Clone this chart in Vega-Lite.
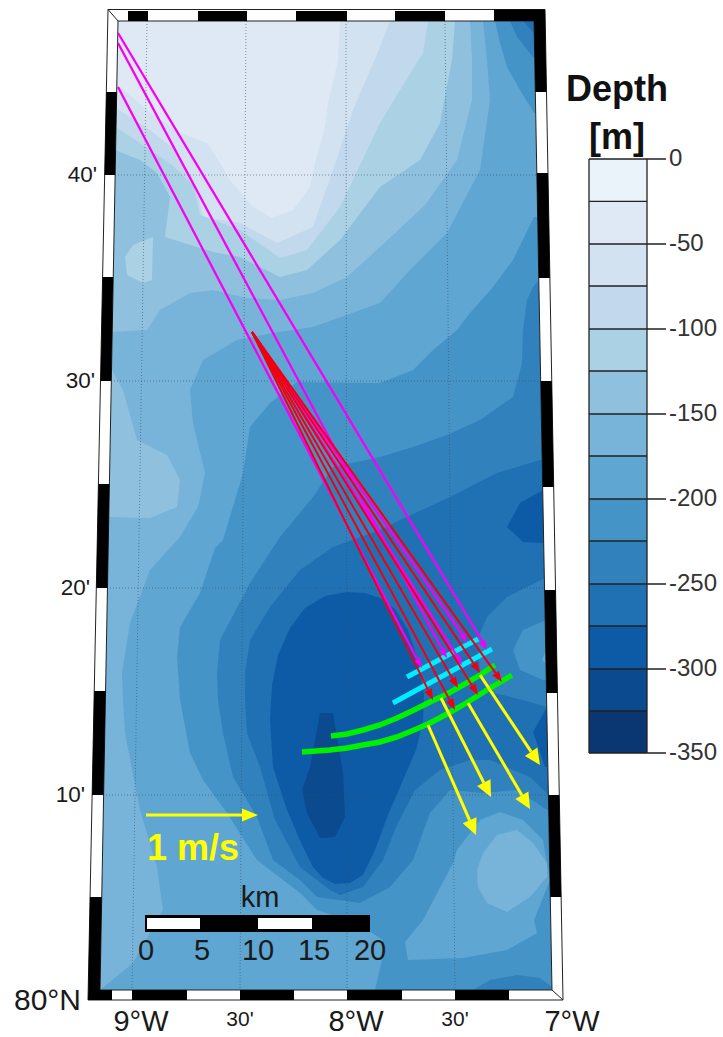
{
"$schema":"https://vega.github.io/schema/vega-lite/v6.json",
"width":723,"height":1037,"padding":0,
"autosize":{"type":"fit","contains":"padding"},
"background":"white",
"config":{"view":{"stroke":null}},
"projection":{"type":"identity","scale":10,"translate":[0,0]},
"layer":[
{"data":{"values":[
{"type":"Feature","properties":{"depth":-25},"geometry":{"type":"Polygon","coordinates":[[[11.8,2.1],[53.4,2.1],[55.2,99],[10,99],[11.8,2.1]]]}},
{"type":"Feature","properties":{"depth":-50},"geometry":{"type":"Polygon","coordinates":[[[11.6,8.3],[14.7,11],[18,13.3],[20.7,14.3],[22,16.3],[23,18],[25.3,20.7],[27.2,21.8],[29.3,21],[31,18.7],[31.5,16.3],[32.5,12.7],[32.8,10.3],[33.8,6],[34,2.1],[53.4,2.1],[55.2,99],[10,99],[11.6,8.3]]]}},
{"type":"Feature","properties":{"depth":-75},"geometry":{"type":"Polygon","coordinates":[[[11.6,10.8],[15,13],[17.5,15],[19.7,19],[20.3,21.7],[24,22.3],[27.7,24.3],[31.3,22.7],[33.3,17],[35.3,11],[38,4.7],[39,2.1],[53.4,2.1],[55.2,99],[10,99],[11.6,10.8]]]}},
{"type":"Feature","properties":{"depth":-100},"geometry":{"type":"Polygon","coordinates":[[[11.6,12.7],[14.3,14.5],[17.2,16.5],[19.3,18.5],[20,21.5],[24,23],[28,25.8],[30.7,25],[34,20.7],[35.3,18],[38,12.3],[40,9],[42.3,5.3],[42.8,2.1],[53.4,2.1],[55.2,99],[10,99],[11.6,12.7]]]}},
{"type":"Feature","properties":{"depth":-125},"geometry":{"type":"Polygon","coordinates":[[[11.5,15],[14,16],[15.7,17.3],[17,19.7],[16.5,23.7],[21.3,25.2],[24,25.7],[28,27.7],[30.7,27],[34,24],[38,18.7],[42,16],[44,12.3],[45.2,6],[45.5,2.1],[53.4,2.1],[55.2,99],[10,99],[11.5,15]]]}},
{"type":"Feature","properties":{"depth":-100},"geometry":{"type":"Polygon","coordinates":[[[12.5,25.7],[13.3,24.5],[15.3,23.7],[15.2,28],[14.3,28.3],[12.7,27.5],[12.5,25.7]]]}},
{"type":"Feature","properties":{"depth":-150},"geometry":{"type":"Polygon","coordinates":[[[11.2,33.2],[14.7,33],[16,31],[19,29.3],[21.3,29],[24.7,29.8],[28,30],[31.3,29.3],[34.7,27.7],[38,24.7],[42.5,20.5],[45.7,16],[47.2,10],[47.2,6],[47,2.1],[53.4,2.1],[55.2,99],[10,99],[11.2,33.2]]]}},
{"type":"Feature","properties":{"depth":-175},"geometry":{"type":"Polygon","coordinates":[[[48.3,2.1],[48.7,6],[49,10],[48,17],[44.7,23.3],[41,27],[38,30.3],[31.3,32.7],[27.3,33.3],[23.7,34],[20.3,36],[19,39],[19.3,42.3],[20.5,47.3],[19.8,50.7],[18,53.7],[15,57],[13,62.3],[12.2,67.3],[12.3,70],[12.5,73.3],[14,81],[15.7,86.7],[16.3,91],[13.3,96.3],[10,99],[55.2,99],[53.4,2.1],[48.3,2.1]]]}},
{"type":"Feature","properties":{"depth":-125},"geometry":{"type":"Polygon","coordinates":[[[10.8,37],[11.2,37],[12.3,39],[13.7,44],[16.7,45.5],[18,48],[17.7,50.7],[15,51.8],[11,51.7],[10.6,51.7],[10.8,37]]]}},
{"type":"Feature","properties":{"depth":-200},"geometry":{"type":"Polygon","coordinates":[[[37.5,99],[38.2,96],[38.3,94],[36,92.5],[31.7,91],[30,89.3],[25.7,86],[22.7,81.3],[20.3,78],[19,75.3],[18,70],[17.7,65.7],[18,62.7],[20,59.3],[21.5,54.8],[22.3,54],[24.3,47.3],[25,42.7],[27,40.3],[29.7,38.2],[36.7,38.3],[38,38.3],[41.3,37],[43.3,35],[45.7,33],[47,31.3],[49.3,28.7],[51.3,26],[53.4,21.7],[53.8,21.7],[55.2,99],[37.5,99]]]}},
{"type":"Feature","properties":{"depth":-200},"geometry":{"type":"Polygon","coordinates":[[[49.5,2.1],[50,4.3],[50.7,6.7],[52,9],[53.4,11.3],[53.6,11.3],[53.4,2.1],[49.5,2.1]]]}},
{"type":"Feature","properties":{"depth":-225},"geometry":{"type":"Polygon","coordinates":[[[21.7,67.3],[22,64],[25,58.3],[28,53.7],[31.3,49.7],[33.3,46.7],[38,45.7],[41.3,44.7],[44.7,43.5],[48,42],[51.3,39.7],[52.2,36.3],[52.3,33],[52.7,30],[53.3,28.7],[53.9,28],[54.9,81],[54.7,81],[51.7,79],[48.3,79.3],[45,79],[43,81.3],[41.3,86],[39,88.7],[36,90.3],[31.7,89.7],[30,88],[27.3,86],[25.7,81.7],[23.3,77.7],[22.3,73.3],[21.8,70],[21.7,67.3]]]}},
{"type":"Feature","properties":{"depth":-225},"geometry":{"type":"Polygon","coordinates":[[[51,2.1],[51.7,3.7],[53.3,5.7],[53.5,5.7],[53.4,2.1],[51,2.1]]]}},
{"type":"Feature","properties":{"depth":-250},"geometry":{"type":"Polygon","coordinates":[[[52.3,2.1],[53.4,3.3],[53.4,2.1],[52.3,2.1]]]}},
{"type":"Feature","properties":{"depth":-250},"geometry":{"type":"Polygon","coordinates":[[[38,53],[40,52],[45,49.7],[49.7,47.3],[54,46],[54.3,46],[54.85,79.5],[53,77.7],[49,76],[47,76],[44,77],[41.5,79],[39.7,82.5],[38.3,86],[36.3,88.7],[34,89.5],[33,89],[30,86.7],[27.5,82],[26,76.7],[24.7,73.3],[24.5,70],[24.5,67.3],[25,64],[27,60.7],[30,57],[33.3,54.7],[38,53]]]}},
{"type":"Feature","properties":{"depth":-275},"geometry":{"type":"Polygon","coordinates":[[[34.7,59.2],[32.5,59.6],[30.5,60.8],[29,62.8],[27.8,65.5],[27.2,68.5],[27,72],[27.3,76.7],[28.7,81],[30.2,84.5],[31.3,86.7],[32.3,87.8],[33.5,88.4],[35,88.3],[36.3,87.5],[37.5,85],[38.8,81.5],[40.3,78],[41.6,75],[42.3,72.2],[42.4,69.5],[41.8,66],[40.8,63],[39.5,60.9],[38,59.8],[36.5,59.3],[34.7,59.2]]]}},
{"type":"Feature","properties":{"depth":-300},"geometry":{"type":"Polygon","coordinates":[[[32,71.3],[33.3,71.3],[34.3,77.3],[34.5,81.7],[33.5,83.7],[32,83.8],[30.7,81.3],[30.2,79],[31,76.7],[31.5,74],[32,71.3]]]}},
{"type":"Feature","properties":{"depth":-225},"geometry":{"type":"Polygon","coordinates":[[[54.5,57.8],[50.7,59.7],[48.7,61.7],[47.7,64],[48,67],[49,69.2],[52.3,70],[54.7,70.7],[54.5,57.8]]]}},
{"type":"Feature","properties":{"depth":-200},"geometry":{"type":"Polygon","coordinates":[[[54.6,62],[52.3,63],[51.3,65],[52,67],[54.3,68],[54.7,68],[54.6,62]]]}},
{"type":"Feature","properties":{"depth":-175},"geometry":{"type":"Polygon","coordinates":[[[54.6,65],[54.2,66],[54.7,66.5],[54.6,65]]]}},
{"type":"Feature","properties":{"depth":-275},"geometry":{"type":"Polygon","coordinates":[[[54.3,49],[52,50.3],[50.7,52.7],[52.3,54.2],[54.4,54.3],[54.3,49]]]}},
{"type":"Feature","properties":{"depth":-275},"geometry":{"type":"Polygon","coordinates":[[[54.7,70.7],[53.3,73.2],[54.5,76.7],[54.8,76.7],[54.7,70.7]]]}},
{"type":"Feature","properties":{"depth":-175},"geometry":{"type":"Polygon","coordinates":[[[40.5,94.2],[40.8,96],[46.3,95.8],[50.7,95],[53.7,93.3],[53.4,92],[55,88],[54.3,84],[52.3,82],[50,81.2],[48,82],[45.7,85],[45.3,86.3],[42.3,92],[40.5,94.2]]]}},
{"type":"Feature","properties":{"depth":-150},"geometry":{"type":"Polygon","coordinates":[[[49.7,83.5],[51.7,83],[53.3,84.3],[54.7,86.3],[54.7,87.7],[53,89.7],[50.7,91.2],[48.7,90.3],[47.8,88.7],[47.7,87],[48.3,85.3],[49.7,83.5]]]}},
{"type":"Feature","properties":{"depth":-225},"geometry":{"type":"Polygon","coordinates":[[[47.3,99],[49,98],[51.7,97.5],[54,97.8],[55.2,98.7],[55.2,99],[47.3,99]]]}},
{"type":"Feature","properties":{"depth":0},"geometry":{"type":"Polygon","coordinates":[[[58.9,15.9],[64.7,15.9],[64.7,20.14],[58.9,20.14],[58.9,15.9]]]}},
{"type":"Feature","properties":{"depth":-25},"geometry":{"type":"Polygon","coordinates":[[[58.9,20.14],[64.7,20.14],[64.7,24.4],[58.9,24.4],[58.9,20.14]]]}},
{"type":"Feature","properties":{"depth":-50},"geometry":{"type":"Polygon","coordinates":[[[58.9,24.4],[64.7,24.4],[64.7,28.6],[58.9,28.6],[58.9,24.4]]]}},
{"type":"Feature","properties":{"depth":-75},"geometry":{"type":"Polygon","coordinates":[[[58.9,28.6],[64.7,28.6],[64.7,32.9],[58.9,32.9],[58.9,28.6]]]}},
{"type":"Feature","properties":{"depth":-100},"geometry":{"type":"Polygon","coordinates":[[[58.9,32.9],[64.7,32.9],[64.7,37.1],[58.9,37.1],[58.9,32.9]]]}},
{"type":"Feature","properties":{"depth":-125},"geometry":{"type":"Polygon","coordinates":[[[58.9,37.1],[64.7,37.1],[64.7,41.4],[58.9,41.4],[58.9,37.1]]]}},
{"type":"Feature","properties":{"depth":-150},"geometry":{"type":"Polygon","coordinates":[[[58.9,41.4],[64.7,41.4],[64.7,45.6],[58.9,45.6],[58.9,41.4]]]}},
{"type":"Feature","properties":{"depth":-175},"geometry":{"type":"Polygon","coordinates":[[[58.9,45.6],[64.7,45.6],[64.7,49.9],[58.9,49.9],[58.9,45.6]]]}},
{"type":"Feature","properties":{"depth":-200},"geometry":{"type":"Polygon","coordinates":[[[58.9,49.9],[64.7,49.9],[64.7,54.1],[58.9,54.1],[58.9,49.9]]]}},
{"type":"Feature","properties":{"depth":-225},"geometry":{"type":"Polygon","coordinates":[[[58.9,54.1],[64.7,54.1],[64.7,58.4],[58.9,58.4],[58.9,54.1]]]}},
{"type":"Feature","properties":{"depth":-250},"geometry":{"type":"Polygon","coordinates":[[[58.9,58.4],[64.7,58.4],[64.7,62.6],[58.9,62.6],[58.9,58.4]]]}},
{"type":"Feature","properties":{"depth":-275},"geometry":{"type":"Polygon","coordinates":[[[58.9,62.6],[64.7,62.6],[64.7,66.9],[58.9,66.9],[58.9,62.6]]]}},
{"type":"Feature","properties":{"depth":-300},"geometry":{"type":"Polygon","coordinates":[[[58.9,66.9],[64.7,66.9],[64.7,71.1],[58.9,71.1],[58.9,66.9]]]}},
{"type":"Feature","properties":{"depth":-325},"geometry":{"type":"Polygon","coordinates":[[[58.9,71.1],[64.7,71.1],[64.7,75.3],[58.9,75.3],[58.9,71.1]]]}}
]},
"mark":{"type":"geoshape"},
"encoding":{"fill":{"field":"properties.depth","type":"ordinal","legend":null,
"scale":{"domain":[0,-25,-50,-75,-100,-125,-150,-175,-200,-225,-250,-275,-300,-325],
"range":["#eaf2fa","#dee9f5","#d2e2f1","#c2d8ec","#aad2e4","#8fc1df","#78b3d9","#5fa6d2","#4594c8","#3181bd","#2070b4","#0d5ba6","#0b4a8f","#0a3672"]}}}},
{"data":{"values":[
{"type":"Feature","properties":{"band":"legend"},"geometry":{"type":"MultiLineString","coordinates":[
[[58.9,15.9],[64.7,15.9]],[[58.9,20.14],[64.7,20.14]],[[58.9,24.4],[64.7,24.4]],[[58.9,28.6],[64.7,28.6]],[[58.9,32.9],[64.7,32.9]],[[58.9,37.1],[64.7,37.1]],[[58.9,41.4],[64.7,41.4]],[[58.9,45.6],[64.7,45.6]],[[58.9,49.9],[64.7,49.9]],[[58.9,54.1],[64.7,54.1]],[[58.9,58.4],[64.7,58.4]],[[58.9,62.6],[64.7,62.6]],[[58.9,66.9],[64.7,66.9]],[[58.9,71.1],[64.7,71.1]],[[58.9,75.3],[64.7,75.3]],
[[58.9,15.9],[58.9,75.3]],[[64.7,15.9],[64.7,75.3]],
[[64.7,15.9],[66.6,15.9]],[[64.7,24.4],[66.6,24.4]],[[64.7,32.9],[66.6,32.9]],[[64.7,41.4],[66.6,41.4]],[[64.7,49.9],[66.6,49.9]],[[64.7,58.4],[66.6,58.4]],[[64.7,66.9],[66.6,66.9]],[[64.7,75.3],[66.6,75.3]]]}}
]},
"mark":{"type":"geoshape","filled":false,"fill":null,"stroke":"#222222","strokeWidth":1.3},"encoding":{}},
{"data":{"values":[
{"type":"Feature","properties":{"name":"9W"},"geometry":{"type":"LineString","coordinates":[[14.7,2.1],[13.2,99]]}},
{"type":"Feature","properties":{"name":"8.5W"},"geometry":{"type":"LineString","coordinates":[[24.6,2.1],[24,99]]}},
{"type":"Feature","properties":{"name":"8W"},"geometry":{"type":"LineString","coordinates":[[34.6,2.1],[34.7,99]]}},
{"type":"Feature","properties":{"name":"7.5W"},"geometry":{"type":"LineString","coordinates":[[44.5,2.1],[45.5,99]]}},
{"type":"Feature","properties":{"name":"40N"},"geometry":{"type":"LineString","coordinates":[[11.5,17.5],[53.7,17.5]]}},
{"type":"Feature","properties":{"name":"30N"},"geometry":{"type":"LineString","coordinates":[[11.1,38.1],[54.1,38.1]]}},
{"type":"Feature","properties":{"name":"20N"},"geometry":{"type":"LineString","coordinates":[[10.7,58.8],[54.5,58.8]]}},
{"type":"Feature","properties":{"name":"10N"},"geometry":{"type":"LineString","coordinates":[[10.3,79.5],[54.9,79.5]]}}
]},
"mark":{"type":"geoshape","filled":false,"fill":null,"stroke":"#3a4f60","strokeOpacity":0.75,"strokeWidth":0.8,"strokeDash":[1,2]},"encoding":{}},
{"data":{"values":[
{"type":"Feature","properties":{"name":"frame"},"geometry":{"type":"Polygon","coordinates":[
[[10.8,0.95],[54.5,0.95],[56.3,100],[8.8,100],[10.8,0.95]],
[[11.8,2.1],[10,99],[55.2,99],[53.4,2.1],[11.8,2.1]]]}}
]},
"mark":{"type":"geoshape","fill":"white","stroke":"#222222","strokeWidth":1},"encoding":{}},
{"data":{"values":[
{"type":"Feature","properties":{"name":"left"},"geometry":{"type":"MultiPolygon","coordinates":[
[[[10.63,9.2],[11.67,9.2],[11.51,17.5],[10.46,17.5],[10.63,9.2]]],
[[[10.26,27.7],[11.32,27.7],[11.13,38.1],[10.05,38.1],[10.26,27.7]]],
[[[9.84,48.4],[10.94,48.4],[10.75,58.8],[9.63,58.8],[9.84,48.4]]],
[[[9.42,69.1],[10.56,69.1],[10.36,79.5],[9.21,79.5],[9.42,69.1]]],
[[[9,89.7],[10.17,89.7],[10,99],[11.2,99],[11.2,100],[8.8,100],[9,89.7]]]]}},
{"type":"Feature","properties":{"name":"right"},"geometry":{"type":"MultiPolygon","coordinates":[
[[[49.4,0.95],[54.5,0.95],[54.65,9.2],[53.53,9.2],[53.4,2.1],[49.4,2.1],[49.4,0.95]]],
[[[53.68,17.3],[54.8,17.3],[54.99,27.8],[53.88,27.8],[53.68,17.3]]],
[[[54.07,38.1],[55.18,38.1],[55.37,48.7],[54.27,48.7],[54.07,38.1]]],
[[[54.46,59],[55.56,59],[55.75,69.3],[54.65,69.3],[54.46,59]]],
[[[54.84,79.5],[55.93,79.5],[56.12,89.7],[55.03,89.7],[54.84,79.5]]]]}},
{"type":"Feature","properties":{"name":"top"},"geometry":{"type":"MultiPolygon","coordinates":[
[[[12.8,1.1],[14.8,1.1],[14.8,2.1],[12.8,2.1],[12.8,1.1]]],
[[[19.8,1.1],[24.7,1.1],[24.7,2.1],[19.8,2.1],[19.8,1.1]]],
[[[29.6,1.1],[34.7,1.1],[34.7,2.1],[29.6,2.1],[29.6,1.1]]],
[[[39.5,1.1],[44.5,1.1],[44.5,2.1],[39.5,2.1],[39.5,1.1]]]]}},
{"type":"Feature","properties":{"name":"bottom"},"geometry":{"type":"MultiPolygon","coordinates":[
[[[13.2,99],[18.7,99],[18.7,100],[13.2,100],[13.2,99]]],
[[[24,99],[29.4,99],[29.4,100],[24,100],[24,99]]],
[[[34.7,99],[40.2,99],[40.2,100],[34.7,100],[34.7,99]]],
[[[45.5,99],[50.9,99],[50.9,100],[45.5,100],[45.5,99]]]]}},
{"type":"Feature","properties":{"name":"scale bar"},"geometry":{"type":"Polygon","coordinates":[[[14.5,91.5],[37,91.5],[37,93.2],[14.5,93.2],[14.5,91.5]]]}}
]},
"mark":{"type":"geoshape","fill":"black","stroke":null},"encoding":{}},
{"data":{"values":[
{"type":"Feature","properties":{"name":"0-5 km"},"geometry":{"type":"Polygon","coordinates":[[[14.7,91.8],[20,91.8],[20,92.9],[14.7,92.9],[14.7,91.8]]]}},
{"type":"Feature","properties":{"name":"10-15 km"},"geometry":{"type":"Polygon","coordinates":[[[25.8,91.8],[31.2,91.8],[31.2,92.9],[25.8,92.9],[25.8,91.8]]]}}
]},
"mark":{"type":"geoshape","fill":"white","stroke":null},"encoding":{}},
{"data":{"values":[
{"type":"Feature","properties":{"name":"corners"},"geometry":{"type":"MultiLineString","coordinates":[[[10.8,0.95],[11.8,2.1]],[[55.2,99],[56.3,100]]]}}
]},
"mark":{"type":"geoshape","filled":false,"fill":null,"stroke":"#222222","strokeWidth":1},"encoding":{}},
{"data":{"values":[
{"type":"Feature","properties":{"name":"A"},"geometry":{"type":"LineString","coordinates":[[40.7,67.7],[47.8,63.9]]}},
{"type":"Feature","properties":{"name":"B"},"geometry":{"type":"LineString","coordinates":[[39.3,70.3],[49.2,64.9]]}}
]},
"mark":{"type":"geoshape","filled":false,"fill":null,"stroke":"#00eeff","strokeWidth":5},"encoding":{}},
{"data":{"values":[
{"type":"Feature","properties":{"name":"m1"},"geometry":{"type":"LineString","coordinates":[[11.8,3.3],[48.2,64.1]]}},
{"type":"Feature","properties":{"name":"m2"},"geometry":{"type":"LineString","coordinates":[[11.8,4.3],[44.2,64.9]]}},
{"type":"Feature","properties":{"name":"m3"},"geometry":{"type":"LineString","coordinates":[[11.8,8.7],[41.7,65.9]]}},
{"type":"Feature","properties":{"name":"m4"},"geometry":{"type":"LineString","coordinates":[[25.2,33.2],[46.2,63.4]]}},
{"type":"Feature","properties":{"name":"m5"},"geometry":{"type":"LineString","coordinates":[[25.2,33.2],[45.7,65.6]]}}
]},
"mark":{"type":"geoshape","filled":false,"fill":null,"stroke":"#f500f5","strokeWidth":2.3},"encoding":{}},
{"data":{"values":[
{"type":"Feature","properties":{"name":"m1"},"geometry":{"type":"Polygon","coordinates":[[[48.7,65],[48.49,63.96],[47.89,64.32],[48.7,65]]]}},
{"type":"Feature","properties":{"name":"m4"},"geometry":{"type":"Polygon","coordinates":[[[46.7,64.3],[46.5,63.26],[45.9,63.62],[46.7,64.3]]]}},
{"type":"Feature","properties":{"name":"m2"},"geometry":{"type":"Polygon","coordinates":[[[44.7,65.8],[44.5,64.76],[43.9,65.12],[44.7,65.8]]]}},
{"type":"Feature","properties":{"name":"m3"},"geometry":{"type":"Polygon","coordinates":[[[42.2,66.8],[42,65.76],[41.4,66.12],[42.2,66.8]]]}},
{"type":"Feature","properties":{"name":"m5"},"geometry":{"type":"Polygon","coordinates":[[[46.2,66.5],[46,65.46],[45.4,65.82],[46.2,66.5]]]}}
]},
"mark":{"type":"geoshape","fill":"#f500f5","stroke":null},"encoding":{}},
{"data":{"values":[
{"type":"Feature","properties":{"name":"g1"},"geometry":{"type":"LineString","coordinates":[[33.1,73.6],[34.7,73.4],[36.3,73],[38,72.5],[39.7,71.8],[41.4,71],[43,70.2],[44.7,69.4],[46.3,68.5],[48,67.5],[49.5,66.5]]}},
{"type":"Feature","properties":{"name":"g2"},"geometry":{"type":"LineString","coordinates":[[30.2,75.2],[33,75],[34.7,74.8],[36.3,74.5],[38,74.2],[39.7,73.7],[41.4,73],[43,72.3],[44.7,71.4],[46.3,70.5],[48.7,69],[51.2,67.5]]}}
]},
"mark":{"type":"geoshape","filled":false,"fill":null,"stroke":"#00f000","strokeWidth":5.5},"encoding":{}},
{"data":{"values":[
{"type":"Feature","properties":{"name":"y1"},"geometry":{"type":"LineString","coordinates":[[42.8,72.5],[46.96,82.03]]}},
{"type":"Feature","properties":{"name":"y2"},"geometry":{"type":"LineString","coordinates":[[44.1,69.8],[48.38,78.27]]}},
{"type":"Feature","properties":{"name":"y3"},"geometry":{"type":"LineString","coordinates":[[46.8,70.3],[52.19,79.52]]}},
{"type":"Feature","properties":{"name":"y4"},"geometry":{"type":"LineString","coordinates":[[48,67.5],[53.11,75.17]]}},
{"type":"Feature","properties":{"name":"1 m/s key"},"geometry":{"type":"LineString","coordinates":[[14.6,81.5],[24.2,81.5]]}}
]},
"mark":{"type":"geoshape","filled":false,"fill":null,"stroke":"#ffff00","strokeWidth":3},"encoding":{}},
{"data":{"values":[
{"type":"Feature","properties":{"name":"y1"},"geometry":{"type":"Polygon","coordinates":[[[47.6,83.5],[47.65,81.73],[46.27,82.33],[47.6,83.5]]]}},
{"type":"Feature","properties":{"name":"y2"},"geometry":{"type":"Polygon","coordinates":[[[49.1,79.7],[49.05,77.93],[47.71,78.61],[49.1,79.7]]]}},
{"type":"Feature","properties":{"name":"y3"},"geometry":{"type":"Polygon","coordinates":[[[53,80.9],[52.84,79.14],[51.54,79.9],[53,80.9]]]}},
{"type":"Feature","properties":{"name":"y4"},"geometry":{"type":"Polygon","coordinates":[[[54,76.5],[53.73,74.75],[52.49,75.59],[54,76.5]]]}},
{"type":"Feature","properties":{"name":"1 m/s key"},"geometry":{"type":"Polygon","coordinates":[[[24.2,80.85],[25.8,81.5],[24.2,82.15],[24.2,80.85]]]}}
]},
"mark":{"type":"geoshape","fill":"#ffff00","stroke":null},"encoding":{}},
{"data":{"values":[
{"type":"Feature","properties":{"name":"r1"},"geometry":{"type":"LineString","coordinates":[[25.2,33.2],[42.82,69.01]]}},
{"type":"Feature","properties":{"name":"r2"},"geometry":{"type":"LineString","coordinates":[[25.2,33.2],[44.98,70.02]]}},
{"type":"Feature","properties":{"name":"r3"},"geometry":{"type":"LineString","coordinates":[[25.2,33.2],[47.22,68.57]]}},
{"type":"Feature","properties":{"name":"r4"},"geometry":{"type":"LineString","coordinates":[[25.2,33.2],[45.25,67.85]]}},
{"type":"Feature","properties":{"name":"r5"},"geometry":{"type":"LineString","coordinates":[[25.2,33.2],[47.39,66.39]]}},
{"type":"Feature","properties":{"name":"r6"},"geometry":{"type":"LineString","coordinates":[[25.2,33.2],[49.56,67.31]]}}
]},
"mark":{"type":"geoshape","filled":false,"fill":null,"stroke":"#ee0011","strokeWidth":2},"encoding":{}},
{"data":{"values":[
{"type":"Feature","properties":{"name":"r1"},"geometry":{"type":"Polygon","coordinates":[[[43.3,70],[43.18,68.83],[42.46,69.19],[43.3,70]]]}},
{"type":"Feature","properties":{"name":"r2"},"geometry":{"type":"Polygon","coordinates":[[[45.5,71],[45.34,69.83],[44.62,70.21],[45.5,71]]]}},
{"type":"Feature","properties":{"name":"r3"},"geometry":{"type":"Polygon","coordinates":[[[47.8,69.5],[47.56,68.36],[46.88,68.78],[47.8,69.5]]]}},
{"type":"Feature","properties":{"name":"r4"},"geometry":{"type":"Polygon","coordinates":[[[45.8,68.8],[45.6,67.65],[44.9,68.05],[45.8,68.8]]]}},
{"type":"Feature","properties":{"name":"r5"},"geometry":{"type":"Polygon","coordinates":[[[48,67.3],[47.72,66.17],[47.06,66.61],[48,67.3]]]}},
{"type":"Feature","properties":{"name":"r6"},"geometry":{"type":"Polygon","coordinates":[[[50.2,68.2],[49.88,67.08],[49.24,67.54],[50.2,68.2]]]}}
]},
"mark":{"type":"geoshape","fill":"#ee0011","stroke":null},"encoding":{}},
{"data":{"values":[{"t":"40'","x":9.7,"y":17.5},{"t":"30'","x":9.5,"y":38.1},{"t":"20'","x":9,"y":58.8},{"t":"10'","x":8.5,"y":79.5}]},
"mark":{"type":"text","font":"Liberation Sans","fontSize":22.5,"align":"right","baseline":"middle","color":"#1a1a1a"},
"encoding":{"longitude":{"field":"x","type":"quantitative"},"latitude":{"field":"y","type":"quantitative"},"text":{"field":"t"}}},
{"data":{"values":[{"t":"30'","x":24,"y":102},{"t":"30'","x":45.5,"y":102}]},
"mark":{"type":"text","font":"Liberation Sans","fontSize":21,"align":"center","baseline":"middle","color":"#1a1a1a"},
"encoding":{"longitude":{"field":"x","type":"quantitative"},"latitude":{"field":"y","type":"quantitative"},"text":{"field":"t"}}},
{"data":{"values":[{"t":"9°W","x":14.1,"y":102.2},{"t":"8°W","x":35.6,"y":102.2},{"t":"7°W","x":57.2,"y":102.2},{"t":"0","x":14.6,"y":95.1},{"t":"5","x":20.2,"y":95.1},{"t":"10","x":25.8,"y":95.1},{"t":"15","x":31.4,"y":95.1},{"t":"20","x":37,"y":95.1},{"t":"km","x":26,"y":89.8}]},
"mark":{"type":"text","font":"Liberation Sans","fontSize":29,"align":"center","baseline":"middle","color":"#1a1a1a"},
"encoding":{"longitude":{"field":"x","type":"quantitative"},"latitude":{"field":"y","type":"quantitative"},"text":{"field":"t"}}},
{"data":{"values":[{"t":"80°N","x":8.1,"y":100.1}]},
"mark":{"type":"text","font":"Liberation Sans","fontSize":30,"align":"right","baseline":"middle","color":"#1a1a1a"},
"encoding":{"longitude":{"field":"x","type":"quantitative"},"latitude":{"field":"y","type":"quantitative"},"text":{"field":"t"}}},
{"data":{"values":[{"t":"1 m/s","x":14.7,"y":84.9}]},
"mark":{"type":"text","font":"Liberation Sans","fontWeight":"bold","fontSize":36,"align":"left","baseline":"middle","color":"#ffff00"},
"encoding":{"longitude":{"field":"x","type":"quantitative"},"latitude":{"field":"y","type":"quantitative"},"text":{"field":"t"}}},
{"data":{"values":[{"t":"Depth","x":61.7,"y":10.1},{"t":"[m]","x":61.7,"y":14.9}]},
"mark":{"type":"text","font":"Liberation Sans","fontWeight":"bold","fontSize":36,"align":"center","baseline":"alphabetic","color":"#111111"},
"encoding":{"longitude":{"field":"x","type":"quantitative"},"latitude":{"field":"y","type":"quantitative"},"text":{"field":"t"}}},
{"data":{"values":[{"t":"0","x":66.9,"y":15.9},{"t":"-50","x":66.9,"y":24.4},{"t":"-100","x":66.9,"y":32.9},{"t":"-150","x":66.9,"y":41.4},{"t":"-200","x":66.9,"y":49.9},{"t":"-250","x":66.9,"y":58.4},{"t":"-300","x":66.9,"y":66.9},{"t":"-350","x":66.9,"y":75.3}]},
"mark":{"type":"text","font":"Liberation Sans","fontSize":24,"align":"left","baseline":"middle","color":"#333333"},
"encoding":{"longitude":{"field":"x","type":"quantitative"},"latitude":{"field":"y","type":"quantitative"},"text":{"field":"t"}}}
]}
